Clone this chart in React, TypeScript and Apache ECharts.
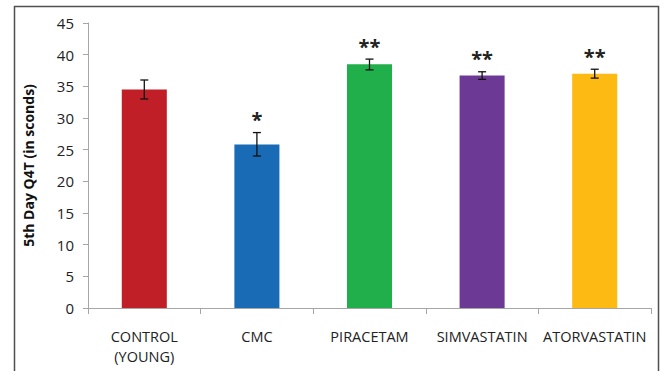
import React, { useEffect, useRef } from "react";
import * as echarts from "echarts";

const categories = ["CONTROL\n(YOUNG)", "CMC", "PIRACETAM", "SIMVASTATIN", "ATORVASTATIN"];
const means = [34.5, 25.8, 38.5, 36.7, 37.0];
const errLow = [33.0, 24.0, 37.6, 36.1, 36.3];
const errHigh = [36.0, 27.7, 39.3, 37.3, 37.7];
const significance = ["", "*", "**", "**", "**"];
const barColors = ["#C01F27", "#1A6BB5", "#21AF4B", "#6C3A95", "#FDBA13"];
const yTicks = { min: 0, max: 45, interval: 5 };
const yTitle = "5th Day Q4T (in sconds)";

const FONT = "'Open Sans', 'Noto Sans', sans-serif";

export default function App() {
  const ref = useRef<HTMLDivElement>(null);
  useEffect(() => {
    document.body.style.margin = "0";
    const chart = echarts.init(ref.current!, null, { renderer: "svg" });
    chart.setOption({
      animation: false,
      backgroundColor: "#ffffff",
      textStyle: { fontFamily: FONT },
      grid: { left: 88, right: 12, top: 23, bottom: 63, containLabel: false },
      graphic: [
        {
          type: "rect",
          shape: { x: 14.5, y: 6.5, width: 644, height: 400 },
          style: { fill: "none", stroke: "#505050", lineWidth: 1.5 },
          silent: true,
          z: 0,
        },
      ],
      xAxis: {
        type: "category",
        data: categories,
        boundaryGap: true,
        axisLine: { lineStyle: { color: "#a6a6a6", width: 1 } },
        axisTick: { show: true, alignWithLabel: false, length: 6, lineStyle: { color: "#a6a6a6" } },
        axisLabel: {
          color: "#222",
          fontSize: 14.5,
          fontFamily: FONT,
          margin: 18,
          lineHeight: 20,
          interval: 0,
        },
      },
      yAxis: {
        type: "value",
        min: yTicks.min,
        max: yTicks.max,
        interval: yTicks.interval,
        name: yTitle,
        nameLocation: "middle",
        nameGap: 53,
        nameRotate: 90,
        nameTextStyle: { fontWeight: "bold", fontSize: 14, color: "#111", fontFamily: FONT },
        splitLine: { show: false },
        axisLine: { show: true, lineStyle: { color: "#a6a6a6", width: 1 } },
        axisTick: { show: true, length: 5, inside: false, lineStyle: { color: "#a6a6a6" } },
        axisLabel: { color: "#222", fontSize: 15, fontFamily: FONT, margin: 14 },
      },
      series: [
        {
          type: "bar",
          data: means.map((v, i) => ({ value: v, itemStyle: { color: barColors[i] } })),
          barWidth: "40%",
          z: 2,
        },
        {
          type: "custom",
          z: 5,
          data: means.map((_, i) => [i, errLow[i], errHigh[i]]),
          renderItem: (params: any, api: any) => {
            const i = api.value(0);
            const lo = api.coord([i, api.value(1)]);
            const hi = api.coord([i, api.value(2)]);
            const x = lo[0];
            const cap = 4;
            const style = { stroke: "#111", lineWidth: 1.3 };
            const children: any[] = [
              { type: "line", shape: { x1: x, y1: lo[1], x2: x, y2: hi[1] }, style },
              { type: "line", shape: { x1: x - cap, y1: lo[1], x2: x + cap, y2: lo[1] }, style },
              { type: "line", shape: { x1: x - cap, y1: hi[1], x2: x + cap, y2: hi[1] }, style },
            ];
            const sig = significance[params.dataIndex];
            if (sig) {
              children.push({
                type: "text",
                x: x,
                y: hi[1] - 3,
                style: {
                  text: sig,
                  fill: "#222",
                  font: `bold 20px ${FONT}`,
                  align: "center",
                  verticalAlign: "bottom",
                },
              });
            }
            return { type: "group", children };
          },
        },
      ],
    });
    return () => chart.dispose();
  }, []);
  return <div ref={ref} style={{ width: 663, height: 371 }} />;
}
